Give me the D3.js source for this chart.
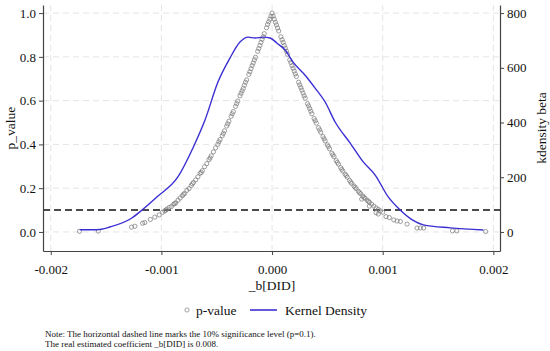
<!DOCTYPE html>
<html>
<head>
<meta charset="utf-8">
<script src="https://cdn.jsdelivr.net/npm/d3@7"></script>
<style>
  body { margin: 0; background: #fff; }
  svg text { font-family: "Times New Roman", Times, "Liberation Serif", "DejaVu Serif", serif; fill: #111; }
</style>
</head>
<body>
<div id="chart"></div>
<script>
// p-value scatter (placebo estimates of _b[DID])
const betaVals = [
  -0.00174, -0.00157, -0.00127, -0.00124, -0.00117, -0.00115, -0.00110, -0.00106, -0.00102, -0.00099,
  -0.00097, -0.00095, -0.00093, -0.00091, -0.00089, -0.00087, -0.00085, -0.00083, -0.00081, -0.00079,
  -0.00077, -0.00075, -0.00073, -0.00071, -0.00069, -0.00067, -0.00065, -0.00063, -0.00061, -0.00059,
  -0.00057, -0.00055, -0.00053, -0.00051, -0.00049, -0.00047, -0.00045, -0.00043, -0.00041, -0.00039,
  -0.00037, -0.00035, -0.00033, -0.00031, -0.00029, -0.00027, -0.00025, -0.00023, -0.00021, -0.00019,
  -0.00017, -0.00015, -0.00013, -0.00011, -0.00009, -0.00007, -0.00005, -0.00003, -0.00001,
  -0.00096, -0.00088, -0.00080, -0.00072, -0.00064, -0.00056, -0.00048, -0.00040, -0.00032, -0.00024,
  -0.00016, -0.00008,
  -0.00044, -0.00036, -0.00028, -0.00020, -0.00012, -0.00004, -0.00026, -0.00018, -0.00010, -0.00002,
  0.00000, 0.00002, 0.00004, 0.00006, 0.00008, 0.00010, 0.00012, 0.00014, 0.00016, 0.00018,
  0.00020, 0.00022, 0.00024, 0.00026, 0.00028, 0.00030, 0.00032, 0.00034, 0.00036, 0.00038,
  0.00040, 0.00042, 0.00044, 0.00046, 0.00048, 0.00050, 0.00052, 0.00054, 0.00056, 0.00058,
  0.00060, 0.00062, 0.00064, 0.00066, 0.00068, 0.00070, 0.00072, 0.00074, 0.00076, 0.00078,
  0.00080, 0.00082, 0.00084, 0.00086, 0.00088, 0.00090, 0.00092, 0.00094, 0.00096, 0.00098, 0.00100,
  0.00081, 0.00088, 0.00094, 0.00096, 0.00103, 0.00106, 0.00110, 0.00113, 0.00116, 0.00122,
  0.00131, 0.00134, 0.00137, 0.00163, 0.00167, 0.00193,
  0.00003, 0.00011, 0.00019, 0.00027, 0.00035, 0.00043, 0.00051, 0.00059, 0.00067, 0.00075, 0.00083,
  0.00001, 0.00005, 0.00009, 0.00013, 0.00017, 0.00021, 0.00025, 0.00029, 0.00033, 0.00039, 0.00047,
  0.00055, 0.00063, 0.00071, 0.00079, 0.00087
];
const pVals = [
  0.003, 0.004, 0.022, 0.026, 0.040, 0.043, 0.057, 0.068, 0.078, 0.090,
  0.096, 0.104, 0.112, 0.116, 0.126, 0.133, 0.145, 0.155, 0.166, 0.176,
  0.190, 0.198, 0.212, 0.226, 0.238, 0.252, 0.268, 0.280, 0.298, 0.312,
  0.330, 0.348, 0.366, 0.384, 0.400, 0.422, 0.440, 0.462, 0.484, 0.506,
  0.528, 0.550, 0.574, 0.598, 0.622, 0.645, 0.670, 0.695, 0.720, 0.746,
  0.772, 0.798, 0.825, 0.852, 0.880, 0.906, 0.933, 0.960, 0.986,
  0.100, 0.130, 0.172, 0.220, 0.272, 0.338, 0.412, 0.494, 0.586, 0.684,
  0.786, 0.892,
  0.450, 0.540, 0.634, 0.732, 0.838, 0.948, 0.656, 0.760, 0.866, 0.972,
  1.000, 0.972, 0.946, 0.918, 0.892, 0.866, 0.840, 0.812, 0.786, 0.760,
  0.735, 0.710, 0.684, 0.660, 0.635, 0.611, 0.586, 0.564, 0.540, 0.518,
  0.497, 0.476, 0.455, 0.436, 0.416, 0.398, 0.380, 0.360, 0.344, 0.326,
  0.310, 0.294, 0.278, 0.264, 0.250, 0.236, 0.222, 0.210, 0.198, 0.186,
  0.175, 0.164, 0.154, 0.145, 0.136, 0.127, 0.118, 0.110, 0.103, 0.096, 0.090,
  0.150, 0.118, 0.088, 0.082, 0.070, 0.066, 0.055, 0.050, 0.048, 0.036,
  0.018, 0.018, 0.018, 0.005, 0.005, 0.002,
  0.958, 0.852, 0.748, 0.648, 0.552, 0.466, 0.390, 0.318, 0.258, 0.204, 0.158,
  0.986, 0.932, 0.878, 0.826, 0.774, 0.722, 0.672, 0.622, 0.576, 0.508, 0.426,
  0.352, 0.286, 0.228, 0.180, 0.140
];

// kernel density of beta
const kdX = [
  -0.001738, -0.001584, -0.001466, -0.001267, -0.001176, -0.001041, -0.000851, -0.000715, -0.000606, -0.000489,
  -0.000380, -0.000290, -0.000217, -0.000154, -0.000081, -0.000018, 0.000045, 0.000118, 0.000190, 0.000299,
  0.000389, 0.000480, 0.000570, 0.000706, 0.000824, 0.000932, 0.001050, 0.001158, 0.001267, 0.001367,
  0.001611, 0.001910
];
const kdY = [
  8, 8, 18, 51, 80, 128, 201, 307, 409, 548,
  636, 694, 712, 709, 712, 709, 690, 665, 621, 573,
  526, 475, 402, 325, 256, 208, 128, 80, 44, 26,
  15, 7
];

const xTicks = [-0.002, -0.001, 0, 0.001, 0.002];
const pTicks = [0, 0.2, 0.4, 0.6, 0.8, 1.0];
const kdTicks = [0, 200, 400, 600, 800];
const pThreshold = 0.1;

const serif = '"Times New Roman", Times, "Liberation Serif", "DejaVu Serif", serif';

const width = 550, height = 351;
const margin = { left: 43, right: 50, top: 5, bottom: 100 };

const svg = d3.select("#chart").append("svg")
  .attr("width", width).attr("height", height);

const x = d3.scaleLinear().domain([-0.00207, 0.00206]).range([margin.left, width - margin.right]);
const yP = d3.scaleLinear().domain([-0.087, 1.037]).range([height - margin.bottom, margin.top]);
const yK = d3.scaleLinear().domain([-0.087 * 800, 1.037 * 800]).range([height - margin.bottom, margin.top]);

const x0 = margin.left, x1 = width - margin.right;
const y0 = height - margin.bottom, y1 = margin.top;

// grid
const grid = svg.append("g").attr("stroke", "#e4e4e4").attr("stroke-width", 1).attr("stroke-dasharray", "6,4");
grid.selectAll("line.h").data(pTicks).join("line").attr("class", "h")
  .attr("x1", x0).attr("x2", x1).attr("y1", d => yP(d)).attr("y2", d => yP(d));
grid.selectAll("line.v").data(xTicks).join("line").attr("class", "v")
  .attr("y1", y0).attr("y2", y1).attr("x1", d => x(d)).attr("x2", d => x(d));

// 10% significance line
svg.append("line")
  .attr("x1", x0).attr("x2", x1)
  .attr("y1", yP(pThreshold)).attr("y2", yP(pThreshold))
  .attr("stroke", "#111").attr("stroke-width", 1.4).attr("stroke-dasharray", "7,4");

// scatter
svg.append("g").selectAll("circle")
  .data(betaVals.map((b, i) => [b, pVals[i]]))
  .join("circle")
  .attr("cx", d => x(d[0])).attr("cy", d => yP(d[1]))
  .attr("r", 2.1)
  .attr("fill", "none").attr("stroke", "#7f7f7f").attr("stroke-width", 0.9).attr("stroke-opacity", 0.85);

// density line
const line = d3.line().x(d => x(d[0])).y(d => yK(d[1])).curve(d3.curveMonotoneX);
svg.append("path")
  .datum(kdX.map((v, i) => [v, kdY[i]]))
  .attr("d", line)
  .attr("fill", "none").attr("stroke", "#3b2fd2").attr("stroke-width", 1.4);

// axes
const axisColor = "#444";
function styleAxis(g) {
  g.attr("font-family", serif).style("font-family", serif);
  g.selectAll(".domain").attr("stroke", axisColor).attr("stroke-width", 1.2);
  g.selectAll(".tick line").attr("stroke", axisColor);
  g.selectAll(".tick text").attr("font-size", 13).attr("fill", "#111")
    .style("font-family", serif);
}
const axL = svg.append("g").attr("transform", `translate(${x0},0)`)
  .call(d3.axisLeft(yP).tickValues(pTicks).tickFormat(d3.format(".1f")).tickSize(4).tickSizeOuter(0));
styleAxis(axL);
const axR = svg.append("g").attr("transform", `translate(${x1},0)`)
  .call(d3.axisRight(yK).tickValues(kdTicks).tickFormat(d3.format("d")).tickSize(4).tickSizeOuter(0));
styleAxis(axR);
const axB = svg.append("g").attr("transform", `translate(0,${y0})`)
  .call(d3.axisBottom(x).tickValues(xTicks).tickFormat(d3.format(".3f")).tickSize(4).tickSizeOuter(0));
styleAxis(axB);
axB.selectAll(".tick text").attr("dy", "1.2em").text(d => d3.format(".3f")(d).replace("−", "-"));

// axis titles
svg.append("text").attr("transform", `translate(15,128) rotate(-90)`)
  .attr("text-anchor", "middle").attr("font-size", 13.5).text("p_value");
svg.append("text").attr("transform", `translate(546,128) rotate(-90)`)
  .attr("text-anchor", "middle").attr("font-size", 13.5).text("kdensity beta");
svg.append("text").attr("x", x(0)).attr("y", 290)
  .attr("text-anchor", "middle").attr("font-size", 13.5).text("_b[DID]");

// legend
const lg = svg.append("g");
lg.append("circle").attr("cx", 187).attr("cy", 310).attr("r", 2.1)
  .attr("fill", "none").attr("stroke", "#8a8a8a").attr("stroke-width", 0.8);
lg.append("text").attr("x", 196).attr("y", 314.5).attr("font-size", 13.5).text("p-value");
lg.append("line").attr("x1", 250).attr("x2", 277).attr("y1", 310).attr("y2", 310)
  .attr("stroke", "#3b2fd2").attr("stroke-width", 1.6);
lg.append("text").attr("x", 285).attr("y", 314.5).attr("font-size", 13.5).text("Kernel Density");

// note
svg.append("text").attr("x", 45).attr("y", 337).attr("font-size", 9)
  .text("Note: The horizontal dashed line marks the 10% significance level (p=0.1).");
svg.append("text").attr("x", 45).attr("y", 347).attr("font-size", 9)
  .text("The real estimated coefficient _b[DID] is 0.008.");
</script>
</body>
</html>
